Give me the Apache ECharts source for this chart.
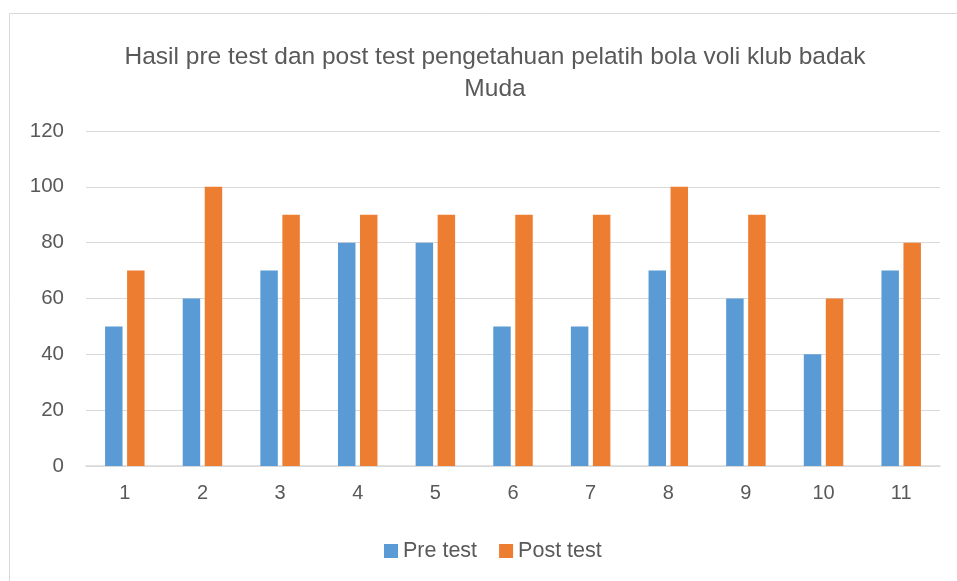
<!DOCTYPE html>
<html>
<head>
<meta charset="utf-8">
<script src="https://cdn.jsdelivr.net/npm/echarts@6/dist/echarts.min.js"></script>
<style>
	html, body { margin: 0; padding: 0; background: #fff; }
	#chart { width: 957px; height: 581px; }
</style>
</head>
<body>
<div id="chart"></div>
<script>
	// data
	var categories = ['1', '2', '3', '4', '5', '6', '7', '8', '9', '10', '11'];
	var preTest = [50, 60, 70, 80, 80, 50, 50, 70, 60, 40, 70];
	var postTest = [70, 100, 90, 90, 90, 90, 90, 100, 90, 60, 80];
	var titleText = 'Hasil pre test dan post test pengetahuan pelatih bola voli klub badak\nMuda';

	var font = 'Liberation Sans';
	var chart = echarts.init(document.getElementById('chart'));
	chart.setOption({
		animation: false,
		graphic: [{
			type: 'rect',
			shape: { x: 9.5, y: 13.5, width: 980, height: 600 },
			style: { fill: 'none', stroke: '#D9D9D9', lineWidth: 1 }
		}],
		title: {
			text: titleText,
			left: 490,
			textAlign: 'center',
			top: 36,
			textStyle: { fontFamily: font, fontSize: 24.5, fontWeight: 'normal', color: '#595959', lineHeight: 32 }
		},
		legend: {
			bottom: 14,
			left: 379,
			itemWidth: 14,
			itemHeight: 14,
			itemGap: 22,
			icon: 'rect',
			textStyle: { fontFamily: font, fontSize: 21.5, color: '#595959' },
			data: ['Pre test', 'Post test']
		},
		grid: { left: 86, right: 17, top: 131, bottom: 115 },
		xAxis: {
			type: 'category',
			data: categories,
			axisTick: { show: false },
			axisLine: { lineStyle: { color: '#D9D9D9', width: 1.5 } },
			axisLabel: { fontFamily: font, fontSize: 20, color: '#595959', margin: 17 }
		},
		yAxis: {
			type: 'value',
			min: 0,
			max: 120,
			interval: 20,
			axisLine: { show: false },
			axisTick: { show: false },
			splitLine: { lineStyle: { color: '#D9D9D9', width: 1 } },
			axisLabel: { fontFamily: font, fontSize: 20.5, color: '#595959', margin: 22 }
		},
		series: [
			{
				name: 'Pre test',
				type: 'bar',
				data: preTest,
				barWidth: '22.5%',
				barGap: '26%',
				itemStyle: { color: '#5B9BD5' }
			},
			{
				name: 'Post test',
				type: 'bar',
				data: postTest,
				barWidth: '22.5%',
				itemStyle: { color: '#ED7D31' }
			}
		]
	});
</script>
</body>
</html>
